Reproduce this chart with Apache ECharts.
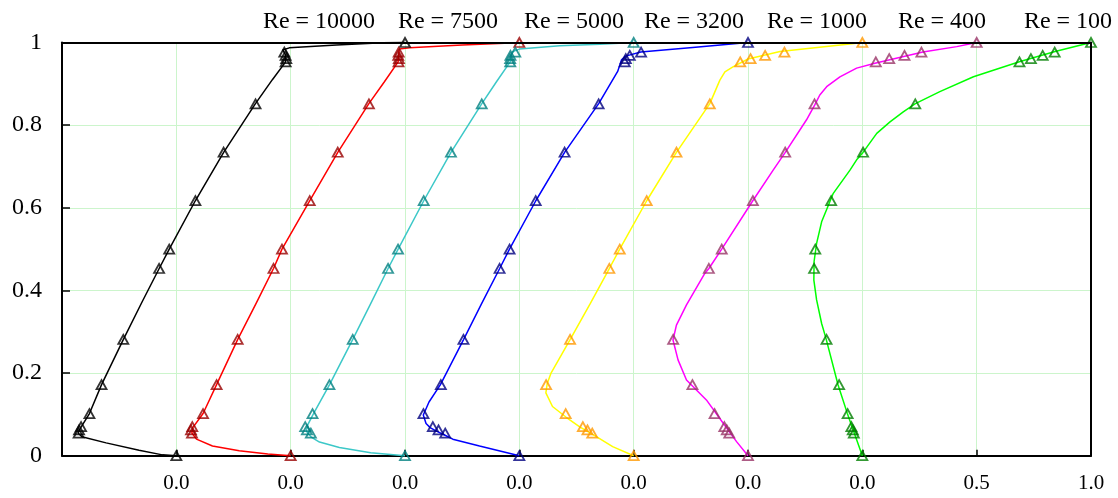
<!DOCTYPE html>
<html>
<head>
<meta charset="utf-8">
<script src="https://cdn.jsdelivr.net/npm/echarts@6/dist/echarts.min.js"></script>
<style>
  html, body { margin: 0; padding: 0; background: #fff; }
  #chart { width: 1118px; height: 498px; }
</style>
</head>
<body>
<div id="chart"></div>
<script>
// u-velocity along the vertical centreline of a lid-driven cavity.
// Each Reynolds-number profile is shifted right by 0.5 on the shared x axis.

const reNames = ['Re = 10000', 'Re = 7500', 'Re = 5000', 'Re = 3200', 'Re = 1000', 'Re = 400', 'Re = 100'];

const xTickLabels = ['', '0.0', '0.0', '0.0', '0.0', '0.0', '0.0', '0.0', '0.5', '1.0'];
const yTickLabels = ['0', '0.2', '0.4', '0.6', '0.8', '1'];

// Reference (benchmark) points: y positions and u values
const yRef = [1.0000, 0.9766, 0.9688, 0.9609, 0.9531, 0.8516, 0.7344, 0.6172, 0.5000, 0.4531, 0.2813, 0.1719, 0.1016, 0.0703, 0.0625, 0.0547, 0.0000];
const uRef10000 = [1, 0.4722, 0.4778, 0.4807, 0.4780, 0.3464, 0.2067, 0.0834, -0.0311, -0.0754, -0.2319, -0.3271, -0.3800, -0.4166, -0.4254, -0.4274, 0];
const uRef7500  = [1, 0.4724, 0.4705, 0.4732, 0.4717, 0.3423, 0.2059, 0.0834, -0.0380, -0.0750, -0.2318, -0.3239, -0.3832, -0.4303, -0.4359, -0.4315, 0];
const uRef5000  = [1, 0.4822, 0.4612, 0.4599, 0.4604, 0.3356, 0.2009, 0.0818, -0.0304, -0.0740, -0.2286, -0.3305, -0.4044, -0.4364, -0.4290, -0.4117, 0];
const uRef3200  = [1, 0.5324, 0.4830, 0.4655, 0.4610, 0.3468, 0.1979, 0.0716, -0.0427, -0.0864, -0.2443, -0.3432, -0.4193, -0.3783, -0.3534, -0.3241, 0];
const uRef1000  = [1, 0.6593, 0.5749, 0.5112, 0.4660, 0.3330, 0.1872, 0.0570, -0.0608, -0.1065, -0.2781, -0.3829, -0.2973, -0.2222, -0.2020, -0.1811, 0];
const uRef400   = [1, 0.7584, 0.6844, 0.6176, 0.5589, 0.2909, 0.1626, 0.0214, -0.1148, -0.1712, -0.3273, -0.2430, -0.1461, -0.1034, -0.0927, -0.0819, 0];
const uRef100   = [1, 0.8412, 0.7887, 0.7372, 0.6872, 0.2315, 0.0033, -0.1364, -0.2058, -0.2109, -0.1566, -0.1015, -0.0643, -0.0478, -0.0419, -0.0372, 0];

// Computed profiles as [u, y] pairs
const line10000 = [[0,0],[-0.061,0.002],[-0.163,0.013],[-0.307,0.031],[-0.413,0.046],[-0.430,0.055],[-0.420,0.066],[-0.380,0.102],[-0.327,0.172],[-0.232,0.281],[-0.150,0.372],[-0.075,0.453],[-0.031,0.500],[0.083,0.617],[0.207,0.734],[0.346,0.852],[0.420,0.910],[0.478,0.953],[0.478,0.970],[0.465,0.982],[0.494,0.987],[0.700,0.994],[0.902,0.9995],[1,1]];
const line7500 = [[0,0],[-0.100,0.004],[-0.225,0.012],[-0.342,0.0235],[-0.412,0.040],[-0.432,0.055],[-0.428,0.068],[-0.383,0.102],[-0.324,0.172],[-0.232,0.281],[-0.150,0.370],[-0.075,0.453],[-0.038,0.500],[0.083,0.617],[0.206,0.734],[0.342,0.852],[0.410,0.905],[0.470,0.953],[0.473,0.975],[0.475,0.984],[0.520,0.987],[0.750,0.994],[0.988,0.9993],[1,1]];
const line5000 = [[0,0],[-0.150,0.007],[-0.287,0.020],[-0.374,0.033],[-0.410,0.045],[-0.432,0.060],[-0.425,0.075],[-0.400,0.102],[-0.330,0.172],[-0.229,0.281],[-0.150,0.368],[-0.074,0.453],[-0.030,0.500],[0.082,0.617],[0.201,0.734],[0.336,0.852],[0.400,0.905],[0.460,0.953],[0.465,0.970],[0.471,0.978],[0.500,0.984],[0.677,0.992],[0.852,0.996],[1,1]];
const line3200 = [[0,0],[-0.174,0.0235],[-0.291,0.040],[-0.327,0.050],[-0.365,0.060],[-0.390,0.068],[-0.408,0.078],[-0.420,0.0985],[-0.395,0.130],[-0.345,0.172],[-0.244,0.281],[-0.165,0.368],[-0.086,0.453],[-0.043,0.500],[0.072,0.617],[0.198,0.734],[0.347,0.852],[0.430,0.930],[0.447,0.958],[0.465,0.967],[0.531,0.977],[0.758,0.988],[1,1]];
const line1000 = [[0,0],[-0.092,0.022],[-0.163,0.046],[-0.236,0.070],[-0.295,0.093],[-0.355,0.119],[-0.384,0.152],[-0.378,0.175],[-0.362,0.199],[-0.278,0.281],[-0.190,0.368],[-0.1065,0.453],[-0.061,0.500],[0.057,0.617],[0.187,0.734],[0.333,0.852],[0.377,0.909],[0.399,0.929],[0.434,0.941],[0.500,0.960],[0.640,0.978],[0.955,0.997],[1,1]];
const line400 = [[0,0],[-0.050,0.034],[-0.087,0.062],[-0.124,0.0905],[-0.182,0.135],[-0.269,0.183],[-0.306,0.232],[-0.328,0.280],[-0.313,0.316],[-0.269,0.365],[-0.189,0.441],[-0.171,0.453],[-0.115,0.500],[0.021,0.617],[0.110,0.691],[0.163,0.734],[0.256,0.813],[0.292,0.849],[0.314,0.873],[0.344,0.893],[0.402,0.917],[0.475,0.938],[0.555,0.950],[0.765,0.977],[0.913,0.990],[1,1]];
const line100 = [[0,0],[-0.040,0.062],[-0.066,0.103],[-0.106,0.171],[-0.159,0.284],[-0.178,0.320],[-0.200,0.377],[-0.212,0.425],[-0.211,0.470],[-0.200,0.514],[-0.178,0.566],[-0.127,0.635],[-0.054,0.691],[-0.025,0.716],[0.003,0.734],[0.063,0.780],[0.121,0.808],[0.179,0.832],[0.232,0.852],[0.339,0.881],[0.486,0.917],[0.690,0.954],[0.843,0.978],[1,1]];

const refSets  = [uRef10000, uRef7500, uRef5000, uRef3200, uRef1000, uRef400, uRef100];
const lineSets = [line10000, line7500, line5000, line3200, line1000, line400, line100];

const lineColors   = ['#000000', '#ff0000', '#3cc8c8', '#0000ff', '#ffff00', '#ff00ff', '#00ff00'];
const markerColors = ['#000000', '#990000', '#008080', '#000080', '#ff9900', '#993366', '#008000'];
const shiftStep = 0.5;
const labelCentersX = [319, 448, 574, 694, 817, 942, 1068];

const FONT = '"Liberation Serif", "Times New Roman", serif';

const series = [];
lineSets.forEach((pts, i) => {
  const shift = shiftStep * (i + 1);
  series.push({
    type: 'line',
    name: reNames[i],
    data: pts.map(p => [p[0] + shift, p[1]]),
    showSymbol: false,
    symbol: 'none',
    lineStyle: { color: lineColors[i], width: 1.5 },
    clip: false,
    z: 2,
    animation: false
  });
});
refSets.forEach((us, i) => {
  const shift = shiftStep * (i + 1);
  series.push({
    type: 'scatter',
    data: us.map((u, k) => [u + shift, yRef[k]]),
    symbol: 'triangle',
    symbolSize: [10, 9],
    itemStyle: { color: 'rgba(255,255,255,0)', borderColor: markerColors[i], borderWidth: 1.8 },
    clip: false,
    z: 3,
    animation: false
  });
});

// Top and right edges of the plot frame
const frameAxis = {
  axisLine: { show: true, onZero: false, lineStyle: { color: '#000', width: 2 } },
  axisTick: { show: false },
  axisLabel: { show: false },
  splitLine: { show: false }
};

const chart = echarts.init(document.getElementById('chart'), null, { renderer: 'canvas' });
chart.setOption({
  animation: false,
  backgroundColor: '#ffffff',
  grid: { left: 62, right: 27, top: 42.5, bottom: 42.3, show: false, containLabel: false },
  xAxis: [{
    type: 'value', min: 0, max: 4.5, interval: 0.5, position: 'bottom',
    axisLine: { show: true, onZero: false, lineStyle: { color: '#000', width: 2 } },
    axisTick: { show: true, inside: true, length: 6, lineStyle: { color: '#000', width: 1.5 } },
    splitLine: { show: true, lineStyle: { color: '#ccf5cc', width: 1 } },
    axisLabel: {
      margin: 17, color: '#000', fontFamily: FONT, fontSize: 21,
      formatter: v => xTickLabels[Math.round(v / 0.5)]
    },
    z: 1
  }, Object.assign({ type: 'value', min: 0, max: 4.5, interval: 0.5, position: 'top', z: 5 }, frameAxis)],
  yAxis: [{
    type: 'value', min: 0, max: 1, interval: 0.2, position: 'left',
    axisLine: { show: true, onZero: false, lineStyle: { color: '#000', width: 2 } },
    axisTick: { show: true, inside: true, length: 8, lineStyle: { color: '#000', width: 1.5 } },
    splitLine: { show: true, lineStyle: { color: '#ccf5cc', width: 1 } },
    axisLabel: {
      margin: 20, color: '#000', fontFamily: FONT, fontSize: 24,
      formatter: v => yTickLabels[Math.round(v / 0.2)]
    },
    z: 1
  }, Object.assign({ type: 'value', min: 0, max: 1, interval: 0.2, position: 'right', z: 5 }, frameAxis)],
  graphic: reNames.map((t, i) => ({
    type: 'text',
    x: labelCentersX[i],
    y: 22,
    style: { text: t, font: '24px ' + FONT, fill: '#000', textAlign: 'center', textVerticalAlign: 'middle' }
  })),
  series: series
});
</script>
</body>
</html>
